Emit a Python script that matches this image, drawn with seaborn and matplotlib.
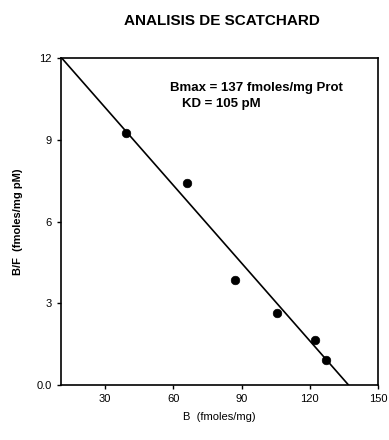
import numpy as np
import pandas as pd
import matplotlib
matplotlib.use("Agg")
import matplotlib.pyplot as plt
import seaborn as sns

# datos
b_vals = [39.2, 66.0, 87.1, 105.5, 122.3, 127.1]
bf_vals = [9.24, 7.43, 3.86, 2.66, 1.64, 0.91]
fit_b = [11, 137]
fit_bf = [12, 0]
xticks = [30, 60, 90, 120, 150]
yticks = [0, 3, 6, 9, 12]
ytick_labels = ["0.0", "3", "6", "9", "12"]

sns.set_style("ticks", {'text.color': 'black', 'axes.edgecolor': 'black',
                        'axes.labelcolor': 'black', 'xtick.color': 'black',
                        'ytick.color': 'black'})
plt.rcParams['font.family'] = ['Liberation Sans', 'DejaVu Sans']

puntos = pd.DataFrame({'B': b_vals, 'BF': bf_vals})
recta = pd.DataFrame({'B': fit_b, 'BF': fit_bf})

fig = plt.figure(figsize=(3.89, 4.4), dpi=100)
ax = fig.add_axes([0.157, 0.125, 0.815, 0.743])

sns.lineplot(data=recta, x='B', y='BF', color='black', linewidth=1.2, ax=ax)
sns.scatterplot(data=puntos, x='B', y='BF', color='black', s=38, edgecolor='black', ax=ax, zorder=3)

ax.set_xlim(10.7, 150)
ax.set_ylim(0, 12)
ax.set_xticks(xticks)
ax.set_yticks(yticks)
ax.set_yticklabels(ytick_labels)
ax.tick_params(labelsize=8, length=3, width=1, direction='out', colors='black')
for s in ax.spines.values():
    s.set_linewidth(1.2)
    s.set_color('black')
    s.set_visible(True)

ax.set_xlabel("B  (fmoles/mg)", fontsize=8, labelpad=6)
ax.set_ylabel("B/F  (fmoles/mg pM)", fontsize=8, fontweight='bold', labelpad=10)

ax.text(0.345, 0.9, "Bmax = 137 fmoles/mg Prot", transform=ax.transAxes, fontsize=9.5, fontweight='bold')
ax.text(0.38, 0.85, "KD = 105 pM", transform=ax.transAxes, fontsize=9.5, fontweight='bold')

fig.text(0.57, 0.953, "ANALISIS DE SCATCHARD", ha='center', va='center', fontsize=11, fontweight='bold')

fig.savefig("out.png", dpi=100)
